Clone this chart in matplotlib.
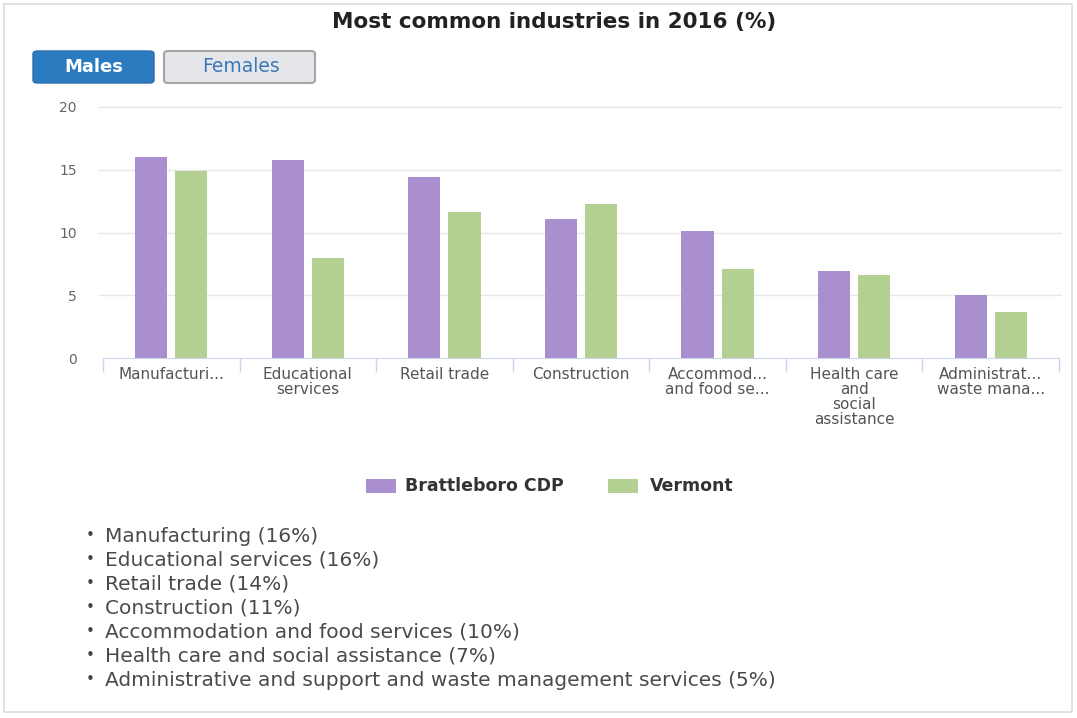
import matplotlib
matplotlib.use("Agg")
import matplotlib.pyplot as plt
import numpy as np
from matplotlib.patches import FancyBboxPatch, Rectangle

# Industry shares (%) for males, 2016
categories = [
    "Manufacturi...",
    "Educational\nservices",
    "Retail trade",
    "Construction",
    "Accommod...\nand food se...",
    "Health care\nand\nsocial\nassistance",
    "Administrat...\nwaste mana...",
]
brattleboro = [16.0, 15.8, 14.4, 11.1, 10.1, 6.9, 5.0]
vermont = [14.9, 8.0, 11.6, 12.3, 7.1, 6.6, 3.7]
series_names = ["Brattleboro CDP", "Vermont"]
yticks = [0, 5, 10, 15, 20]

bullet_items = [
    "Manufacturing (16%)",
    "Educational services (16%)",
    "Retail trade (14%)",
    "Construction (11%)",
    "Accommodation and food services (10%)",
    "Health care and social assistance (7%)",
    "Administrative and support and waste management services (5%)",
]

PURPLE = "#a98fce"
GREEN = "#b4cf92"
colors = [PURPLE, GREEN]

W, H = 1077, 718
fig = plt.figure(figsize=(W / 100, H / 100), dpi=100)


def fx(x):
    return x / W


def fy(y):
    return 1 - y / H


# outer frame
fig.patches.append(Rectangle((fx(4), fy(712)), fx(1068), 708 / H, transform=fig.transFigure,
                             facecolor="none", edgecolor="#dcdcdc", linewidth=1.2))

fig.text(fx(554), fy(22), "Most common industries in 2016 (%)", ha="center", va="center",
         fontsize=15.5, fontweight="bold", color="#222222", family="DejaVu Sans")

# toggle buttons
fig.patches.append(FancyBboxPatch((fx(33), fy(83)), fx(121), 32 / H, transform=fig.transFigure,
                                  boxstyle="round,pad=0,rounding_size=0.004",
                                  facecolor="#2a7bc0", edgecolor="#2a6fad", linewidth=1))
fig.text(fx(94), fy(67), "Males", ha="center", va="center", fontsize=13, fontweight="bold",
         color="white", family="DejaVu Sans")
fig.patches.append(FancyBboxPatch((fx(164), fy(83)), fx(151), 32 / H, transform=fig.transFigure,
                                  boxstyle="round,pad=0,rounding_size=0.004",
                                  facecolor="#e4e6ea", edgecolor="#a5a5a5", linewidth=1.5))
fig.text(fx(241), fy(67), "Females", ha="center", va="center", fontsize=13.5,
         color="#3a78b8", family="DejaVu Sans")

ax = fig.add_axes([fx(103), fy(358), fx(956), (358 - 107) / H])
x = np.arange(len(categories))
bw = 0.235
off = 0.147
ax.bar(x - off, brattleboro, width=bw, color=colors[0], label=series_names[0], zorder=3)
ax.bar(x + off, vermont, width=bw, color=colors[1], label=series_names[1], zorder=3)

ax.set_xlim(-0.5, len(categories) - 0.5)
ax.set_ylim(0, 20)
ax.set_yticks(yticks)
ax.set_yticklabels([str(v) for v in yticks], color="#666666", fontsize=10)
ax.tick_params(axis="y", length=0, pad=19)
for v in yticks[1:]:
    ax.axhline(v, xmin=-0.004, xmax=1.002, color="#e6e6e6", linewidth=1, zorder=1, clip_on=False)

ax.set_xticks(x)
ax.set_xticklabels(categories, fontsize=11, color="#555555", linespacing=1.0,
                   family="DejaVu Sans")
ax.tick_params(axis="x", length=0, pad=6.5)
ax.set_xticks(np.arange(-0.5, len(categories)), minor=True)
ax.tick_params(axis="x", which="minor", length=10, color="#ccd6eb", width=1)

for s in ["top", "right", "left"]:
    ax.spines[s].set_visible(False)
ax.spines["bottom"].set_color("#ccd6eb")
ax.set_facecolor("none")

# legend: colour swatch followed by bold series name
legend_x = [(366, 405), (608, 650)]
for (sx, tx), name, c in zip(legend_x, series_names, colors):
    fig.patches.append(Rectangle((fx(sx), fy(493)), fx(30), 14 / H, transform=fig.transFigure,
                                 facecolor=c, edgecolor="none"))
    fig.text(fx(tx), fy(486), name, ha="left", va="center", fontsize=12.5, fontweight="bold",
             color="#333333", family="DejaVu Sans")

# bullet list
for i, item in enumerate(bullet_items):
    yy = fy(536 + i * 24)
    fig.text(fx(86), yy, "\u2022", ha="left", va="center", fontsize=11, color="#444444",
             family="DejaVu Sans")
    fig.text(fx(105), yy, item, ha="left", va="center", fontsize=14.5, color="#4a4a4a",
             family="DejaVu Sans")

fig.savefig("out.png", dpi=100, facecolor="white")
